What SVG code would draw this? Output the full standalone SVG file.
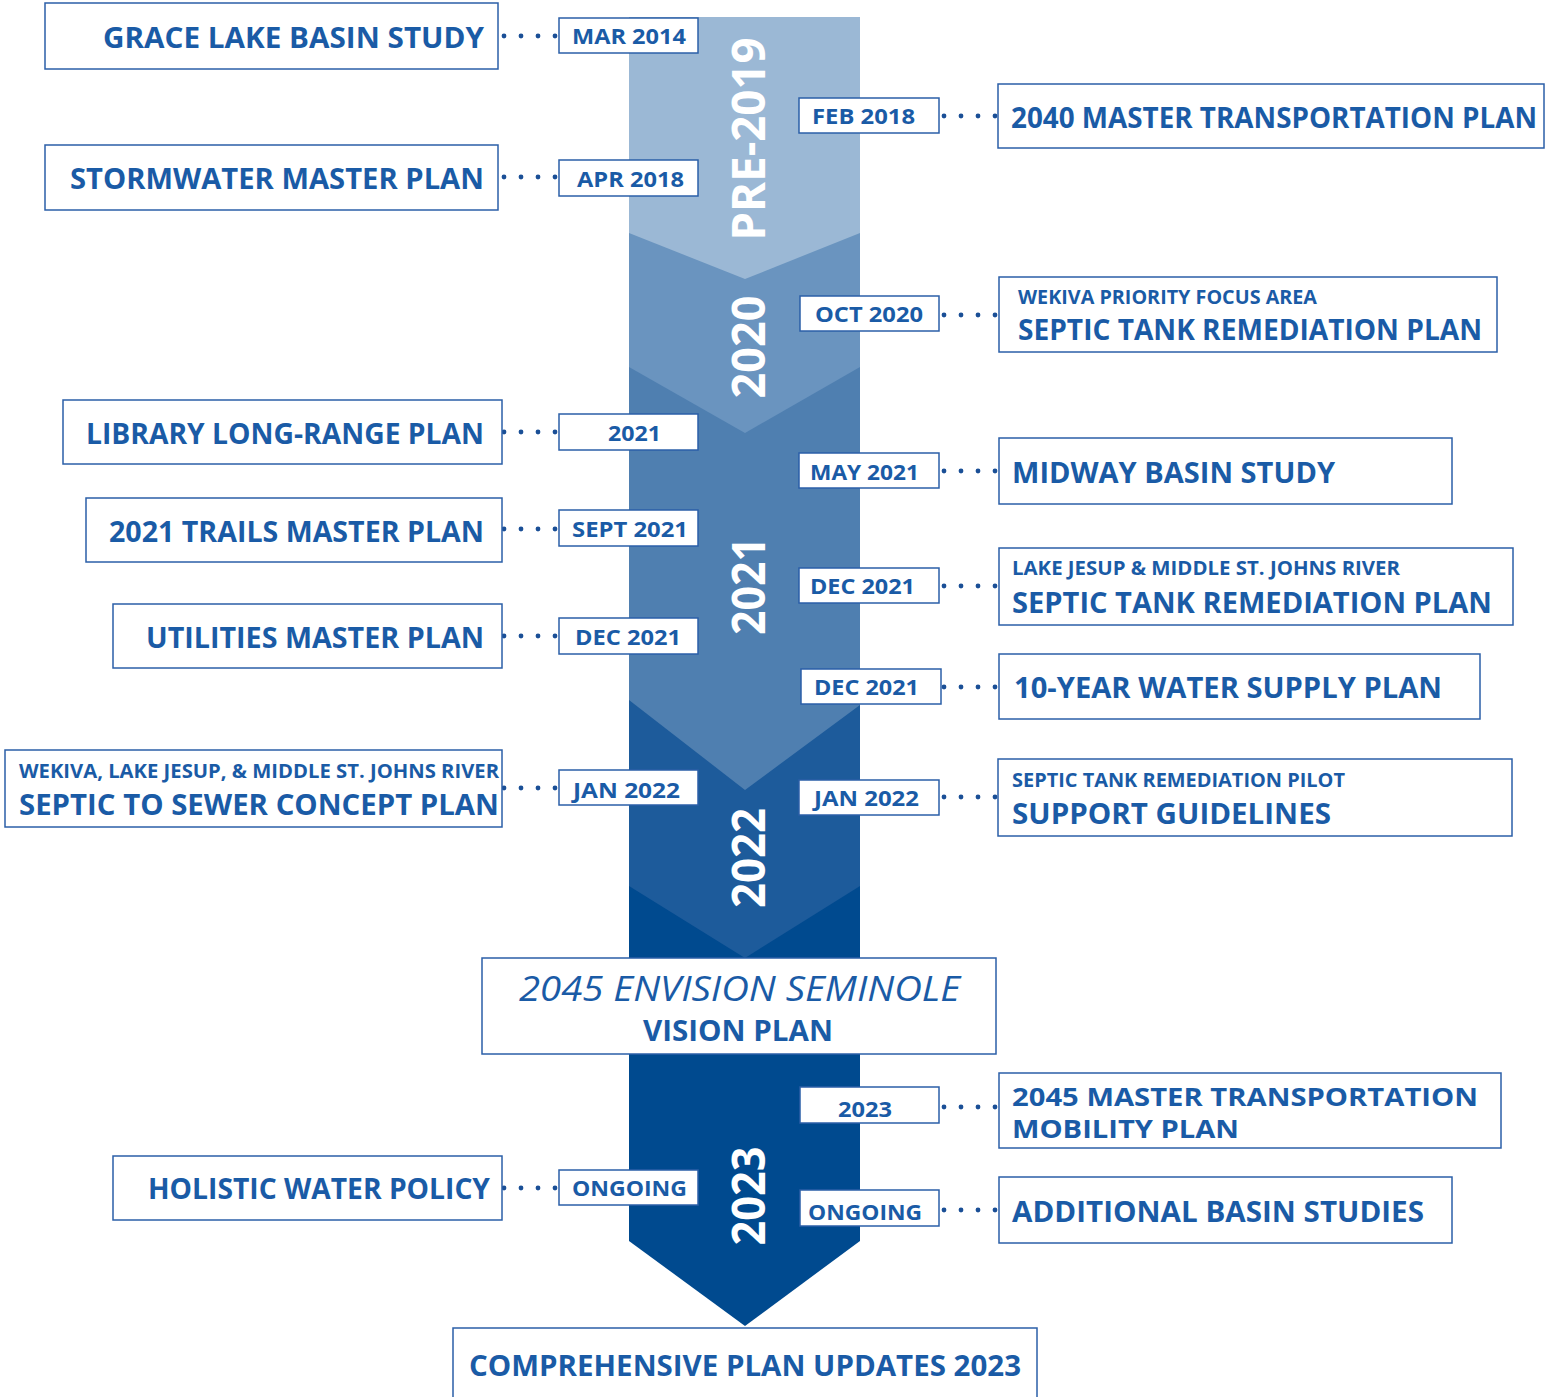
<svg xmlns="http://www.w3.org/2000/svg" xmlns:xlink="http://www.w3.org/1999/xlink" width="1552" height="1397" viewBox="0 0 1552 1397">
<style>
.box{fill:#fff;stroke:#2b5fa8;stroke-width:1.5}
.t{font-family:"Open Sans","Noto Sans",sans-serif;font-weight:700;fill:#1a5ba6}
.title{font-size:28px}
.small{font-size:19px}
.date{font-size:22px}
.yr{font-family:"Open Sans","Noto Sans",sans-serif;font-weight:700;fill:#fff;font-size:46px}
.dot{fill:#1a4f96}
</style>
<defs>
<g id="dots4">
<circle class="dot" cx="0" cy="0" r="2.4"/>
<circle class="dot" cx="17" cy="0" r="2.4"/>
<circle class="dot" cx="34" cy="0" r="2.4"/>
<circle class="dot" cx="51" cy="0" r="2.4"/>
</g>
</defs>
<rect width="1552" height="1397" fill="#fff"/>
<g id="timeline">
<polygon points="629,17 860,17 860,1241 745,1326 629,1241" fill="#004a8f"/>
<polygon points="629,17 860,17 860,886 745,958 629,886" fill="#1d5b9b"/>
<polygon points="629,17 860,17 860,705 745,790 629,700" fill="#4f7fb0"/>
<polygon points="629,17 860,17 860,367 745,433 629,367" fill="#6a94bf"/>
<polygon points="629,17 860,17 860,233 745,279 629,233" fill="#9bb8d5"/>
<text class="yr" transform="translate(765,139) rotate(-90)" text-anchor="middle" textLength="203" lengthAdjust="spacingAndGlyphs">PRE-2019</text>
<text class="yr" transform="translate(765,347) rotate(-90)" text-anchor="middle" textLength="103" lengthAdjust="spacingAndGlyphs">2020</text>
<text class="yr" transform="translate(765,586) rotate(-90)" text-anchor="middle" textLength="98" lengthAdjust="spacingAndGlyphs">2021</text>
<text class="yr" transform="translate(765,858) rotate(-90)" text-anchor="middle" textLength="100" lengthAdjust="spacingAndGlyphs">2022</text>
<text class="yr" transform="translate(765,1196) rotate(-90)" text-anchor="middle" textLength="99" lengthAdjust="spacingAndGlyphs">2023</text>
</g>
<g id="connectors">
<use xlink:href="#dots4" x="504" y="36"/>
<use xlink:href="#dots4" x="504" y="177"/>
<use xlink:href="#dots4" x="504" y="432"/>
<use xlink:href="#dots4" x="504" y="529"/>
<use xlink:href="#dots4" x="504" y="636"/>
<use xlink:href="#dots4" x="504" y="788"/>
<use xlink:href="#dots4" x="504" y="1188"/>
<use xlink:href="#dots4" x="944" y="116"/>
<use xlink:href="#dots4" x="944" y="315"/>
<use xlink:href="#dots4" x="944" y="471"/>
<use xlink:href="#dots4" x="944" y="586"/>
<use xlink:href="#dots4" x="944" y="687"/>
<use xlink:href="#dots4" x="944" y="797"/>
<use xlink:href="#dots4" x="944" y="1107"/>
<use xlink:href="#dots4" x="944" y="1210"/>
</g>
<!-- left side -->
<g id="grace-lake">
<rect class="box" x="45" y="3" width="453" height="66"/>
<text class="t title" x="103" y="48" textLength="381" lengthAdjust="spacingAndGlyphs">GRACE LAKE BASIN STUDY</text>
</g>
<g id="date-mar2014">
<rect class="box" x="559" y="18" width="139" height="35"/>
<text class="t date" x="572" y="44" textLength="114" lengthAdjust="spacingAndGlyphs">MAR 2014</text>
</g>
<g id="stormwater">
<rect class="box" x="45" y="145" width="453" height="65"/>
<text class="t title" x="70" y="189" textLength="414" lengthAdjust="spacingAndGlyphs">STORMWATER MASTER PLAN</text>
</g>
<g id="date-apr2018">
<rect class="box" x="559" y="160" width="139" height="36"/>
<text class="t date" x="577" y="187" textLength="107" lengthAdjust="spacingAndGlyphs">APR 2018</text>
</g>
<g id="library">
<rect class="box" x="63" y="400" width="439" height="64"/>
<text class="t title" x="86" y="444" textLength="398" lengthAdjust="spacingAndGlyphs">LIBRARY LONG-RANGE PLAN</text>
</g>
<g id="date-2021">
<rect class="box" x="559" y="414" width="139" height="36"/>
<text class="t date" x="608" y="441" textLength="53" lengthAdjust="spacingAndGlyphs">2021</text>
</g>
<g id="trails">
<rect class="box" x="86" y="498" width="416" height="64"/>
<text class="t title" x="109" y="542" textLength="375" lengthAdjust="spacingAndGlyphs">2021 TRAILS MASTER PLAN</text>
</g>
<g id="date-sept2021">
<rect class="box" x="559" y="510" width="139" height="36"/>
<text class="t date" x="572" y="537" textLength="116" lengthAdjust="spacingAndGlyphs">SEPT 2021</text>
</g>
<g id="utilities">
<rect class="box" x="113" y="604" width="389" height="64"/>
<text class="t title" x="146" y="648" textLength="338" lengthAdjust="spacingAndGlyphs">UTILITIES MASTER PLAN</text>
</g>
<g id="date-dec2021-left">
<rect class="box" x="559" y="618" width="139" height="36"/>
<text class="t date" x="575" y="645" textLength="106" lengthAdjust="spacingAndGlyphs">DEC 2021</text>
</g>
<g id="septic-sewer">
<rect class="box" x="5" y="750" width="497" height="77"/>
<text class="t small" x="19" y="778" textLength="480" lengthAdjust="spacingAndGlyphs">WEKIVA, LAKE JESUP, &amp; MIDDLE ST. JOHNS RIVER</text>
<text class="t title" x="19" y="815" textLength="480" lengthAdjust="spacingAndGlyphs">SEPTIC TO SEWER CONCEPT PLAN</text>
</g>
<g id="date-jan2022-left">
<rect class="box" x="559" y="770" width="139" height="35"/>
<text class="t date" x="573" y="798" textLength="107" lengthAdjust="spacingAndGlyphs">JAN 2022</text>
</g>
<g id="holistic">
<rect class="box" x="113" y="1156" width="389" height="64"/>
<text class="t title" x="148" y="1199" textLength="342" lengthAdjust="spacingAndGlyphs">HOLISTIC WATER POLICY</text>
</g>
<g id="date-ongoing-left">
<rect class="box" x="559" y="1170" width="139" height="35"/>
<text class="t date" x="572" y="1196" textLength="115" lengthAdjust="spacingAndGlyphs">ONGOING</text>
</g>
<!-- right side -->
<g id="date-feb2018">
<rect class="box" x="799" y="98" width="140" height="35"/>
<text class="t date" x="812" y="124" textLength="103" lengthAdjust="spacingAndGlyphs">FEB 2018</text>
</g>
<g id="transport-2040">
<rect class="box" x="998" y="84" width="546" height="64"/>
<text class="t title" x="1011" y="128" textLength="526" lengthAdjust="spacingAndGlyphs">2040 MASTER TRANSPORTATION PLAN</text>
</g>
<g id="date-oct2020">
<rect class="box" x="800" y="296" width="139" height="35"/>
<text class="t date" x="815" y="322" textLength="108" lengthAdjust="spacingAndGlyphs">OCT 2020</text>
</g>
<g id="wekiva-septic">
<rect class="box" x="999" y="277" width="498" height="75"/>
<text class="t small" x="1018" y="304" textLength="299" lengthAdjust="spacingAndGlyphs">WEKIVA PRIORITY FOCUS AREA</text>
<text class="t title" x="1018" y="340" textLength="464" lengthAdjust="spacingAndGlyphs">SEPTIC TANK REMEDIATION PLAN</text>
</g>
<g id="date-may2021">
<rect class="box" x="799" y="453" width="140" height="35"/>
<text class="t date" x="810" y="480" textLength="109" lengthAdjust="spacingAndGlyphs">MAY 2021</text>
</g>
<g id="midway">
<rect class="box" x="999" y="438" width="453" height="66"/>
<text class="t title" x="1012" y="483" textLength="323" lengthAdjust="spacingAndGlyphs">MIDWAY BASIN STUDY</text>
</g>
<g id="date-dec2021-right1">
<rect class="box" x="799" y="568" width="140" height="35"/>
<text class="t date" x="810" y="594" textLength="105" lengthAdjust="spacingAndGlyphs">DEC 2021</text>
</g>
<g id="jesup-septic">
<rect class="box" x="999" y="548" width="514" height="77"/>
<text class="t small" x="1012" y="575" textLength="388" lengthAdjust="spacingAndGlyphs">LAKE JESUP &amp; MIDDLE ST. JOHNS RIVER</text>
<text class="t title" x="1012" y="613" textLength="480" lengthAdjust="spacingAndGlyphs">SEPTIC TANK REMEDIATION PLAN</text>
</g>
<g id="date-dec2021-right2">
<rect class="box" x="801" y="669" width="140" height="35"/>
<text class="t date" x="814" y="695" textLength="105" lengthAdjust="spacingAndGlyphs">DEC 2021</text>
</g>
<g id="water-supply">
<rect class="box" x="999" y="654" width="481" height="65"/>
<text class="t title" x="1014" y="698" textLength="428" lengthAdjust="spacingAndGlyphs">10-YEAR WATER SUPPLY PLAN</text>
</g>
<g id="date-jan2022-right">
<rect class="box" x="799" y="780" width="140" height="35"/>
<text class="t date" x="814" y="806" textLength="105" lengthAdjust="spacingAndGlyphs">JAN 2022</text>
</g>
<g id="pilot">
<rect class="box" x="998" y="759" width="514" height="77"/>
<text class="t small" x="1012" y="787" textLength="333" lengthAdjust="spacingAndGlyphs">SEPTIC TANK REMEDIATION PILOT</text>
<text class="t title" x="1012" y="824" textLength="319" lengthAdjust="spacingAndGlyphs">SUPPORT GUIDELINES</text>
</g>
<g id="date-2023">
<rect class="box" x="800" y="1087" width="139" height="36"/>
<text class="t date" x="838" y="1117" textLength="54" lengthAdjust="spacingAndGlyphs">2023</text>
</g>
<g id="transport-2045">
<rect class="box" x="999" y="1073" width="502" height="75"/>
<text class="t" x="1012" y="1106" font-size="25" textLength="466" lengthAdjust="spacingAndGlyphs">2045 MASTER TRANSPORTATION</text>
<text class="t" x="1012" y="1138" font-size="25" textLength="227" lengthAdjust="spacingAndGlyphs">MOBILITY PLAN</text>
</g>
<g id="date-ongoing-right">
<rect class="box" x="800" y="1190" width="139" height="36"/>
<text class="t date" x="808" y="1220" textLength="114" lengthAdjust="spacingAndGlyphs">ONGOING</text>
</g>
<g id="basin-studies">
<rect class="box" x="999" y="1177" width="453" height="66"/>
<text class="t title" x="1012" y="1222" textLength="412" lengthAdjust="spacingAndGlyphs">ADDITIONAL BASIN STUDIES</text>
</g>
<!-- center -->
<g id="vision-plan">
<rect class="box" x="482" y="958" width="514" height="96"/>
<text x="519" y="1001" font-family="'Open Sans','Noto Sans',sans-serif" font-style="italic" font-weight="400" font-size="35" fill="#1a5ba6" textLength="441" lengthAdjust="spacingAndGlyphs">2045 ENVISION SEMINOLE</text>
<text class="t" x="643" y="1041" font-size="28" textLength="190" lengthAdjust="spacingAndGlyphs">VISION PLAN</text>
</g>
<g id="comprehensive">
<rect class="box" x="453" y="1328" width="584" height="80"/>
<text class="t" x="469" y="1376" font-size="29" textLength="552" lengthAdjust="spacingAndGlyphs">COMPREHENSIVE PLAN UPDATES 2023</text>
</g>
</svg>
